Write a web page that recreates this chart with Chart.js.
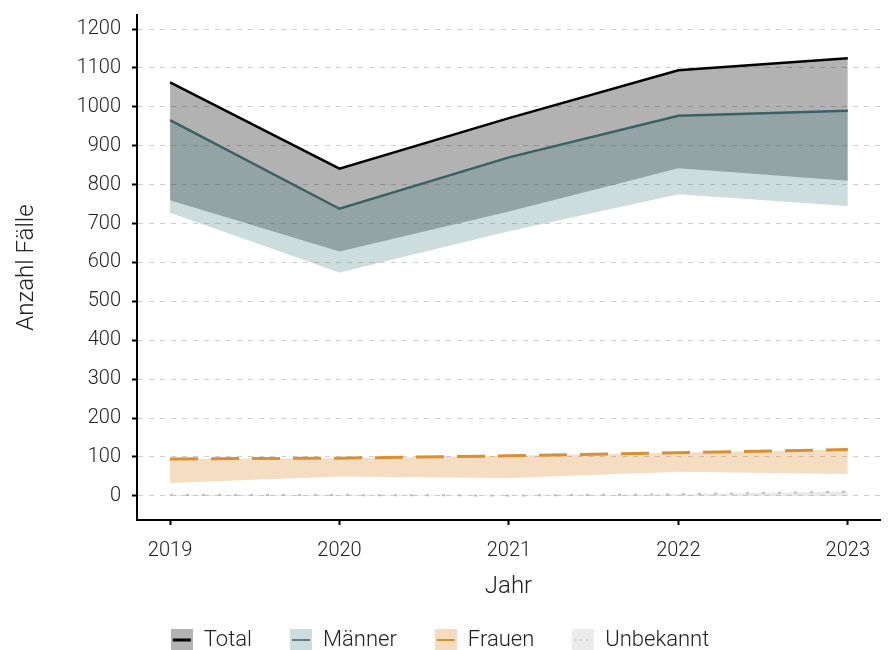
<!DOCTYPE html>
<html lang="de">
<head>
    <meta charset="UTF-8">
    <title>Anzahl Fälle pro Jahr</title>
    <script src="https://cdn.jsdelivr.net/npm/chart.js"></script>
    <style>
        body {
            margin: 0;
            background: #fff;
        }
        #chartBox {
            width: 891px;
            height: 650px;
        }
    </style>
</head>
<body>
    <div id="chartBox">
        <canvas id="caseChart"></canvas>
    </div>

    <script>
// values
const years = [2019, 2020, 2021, 2022, 2023];
const totalHigh = [1063, 841, 971, 1094, 1125];
const totalLow = [760, 628, 731, 842, 810];
const maennerHigh = [966, 738, 870, 977, 990];
const maennerLow = [728, 574, 680, 775, 745];
const frauenHigh = [95, 97, 103, 111, 119];
const frauenLow = [33, 50, 46, 62, 56];
const unbekanntHigh = [2, 2, 1, 4, 11];
const unbekanntLow = [0, 0, 0, 0, 0];
const yTicks = [0, 100, 200, 300, 400, 500, 600, 700, 800, 900, 1000, 1100, 1200];

const fontFamily = "Roboto, 'DejaVu Sans', sans-serif";
const textColor = '#222';

function points(values) {
    return years.map((yr, i) => ({ x: yr, y: values[i] }));
}

// small key pictures for the legend: band colour with the line through it
function legendIcon(fill, stroke, width, dash) {
    const c = document.createElement('canvas');
    c.width = 22;
    c.height = 22;
    const g = c.getContext('2d');
    g.fillStyle = fill;
    g.fillRect(0, 0, 22, 22);
    g.strokeStyle = stroke;
    g.lineWidth = width;
    g.setLineDash(dash);
    g.beginPath();
    g.moveTo(2, 11);
    g.lineTo(20, 11);
    g.stroke();
    return c;
}

const legendEntries = [
    { text: 'Total', index: 0, icon: legendIcon('#b3b3b3', '#000', 3, []) },
    { text: 'Männer', index: 2, icon: legendIcon('#cddcdc', '#3a6266', 1.5, []) },
    { text: 'Frauen', index: 4, icon: legendIcon('#f3dcc0', '#d98f32', 2, []) },
    { text: 'Unbekannt', index: 6, icon: legendIcon('#ebebeb', '#c4c4c4', 1.5, [2, 4]) }
];

const hidden = { borderColor: 'rgba(0,0,0,0)', borderWidth: 0, fill: false };

const ctx = document.getElementById('caseChart').getContext('2d');
new Chart(ctx, {
    type: 'line',
    data: {
        datasets: [
            {
                label: 'Total', data: points(totalHigh),
                borderColor: '#000', borderWidth: 2.5,
                fill: { target: 1 }, backgroundColor: 'rgba(0,0,0,0.3)', order: 4
            },
            Object.assign({ label: 'Total min', data: points(totalLow), order: 5 }, hidden),
            {
                label: 'Männer', data: points(maennerHigh),
                borderColor: '#3a6266', borderWidth: 2.5,
                fill: { target: 3 }, backgroundColor: 'rgba(55,115,115,0.25)', order: 2
            },
            Object.assign({ label: 'Männer min', data: points(maennerLow), order: 6 }, hidden),
            {
                label: 'Frauen', data: points(frauenHigh),
                borderColor: '#d98f32', borderWidth: 3, borderDash: [28, 13],
                fill: { target: 5 }, backgroundColor: 'rgba(217,143,50,0.3)', order: 1
            },
            Object.assign({ label: 'Frauen min', data: points(frauenLow), order: 7 }, hidden),
            {
                label: 'Unbekannt', data: points(unbekanntHigh),
                borderColor: '#bdbdbd', borderWidth: 2, borderDash: [3, 13],
                fill: { target: 7 }, backgroundColor: 'rgba(178,178,178,0.3)', order: 0
            },
            Object.assign({ label: 'Unbekannt min', data: points(unbekanntLow), order: 8 }, hidden)
        ]
    },
    options: {
        responsive: true,
        maintainAspectRatio: false,
        animation: false,
        elements: {
            point: { radius: 0, hoverRadius: 0 },
            line: { tension: 0 }
        },
        layout: {
            padding: { top: 15, right: 11, bottom: 0, left: 0 }
        },
        plugins: {
            tooltip: { enabled: false },
            legend: {
                position: 'bottom',
                maxHeight: 59,
                labels: {
                    usePointStyle: true,
                    padding: 38,
                    color: textColor,
                    font: { family: fontFamily, size: 22, weight: 300 },
                    generateLabels: () => legendEntries.map(e => ({
                        text: e.text,
                        pointStyle: e.icon,
                        datasetIndex: e.index,
                        hidden: false,
                        lineWidth: 0,
                        fontColor: textColor
                    }))
                }
            }
        },
        scales: {
            x: {
                type: 'linear',
                min: 2018.805,
                max: 2023.19,
                afterBuildTicks: scale => { scale.ticks = years.map(v => ({ value: v })); },
                afterFit: scale => {
                    scale.height = 71;
                    scale.paddingLeft = 0;
                    scale.paddingRight = 0;
                },
                ticks: {
                    callback: v => String(v),
                    color: textColor,
                    padding: 14,
                    maxRotation: 0,
                    autoSkip: false,
                    font: { family: fontFamily, size: 20, weight: 300 }
                },
                grid: {
                    drawOnChartArea: false,
                    tickLength: 5,
                    tickWidth: 2,
                    tickColor: '#000'
                },
                border: { color: '#000', width: 2 },
                title: {
                    display: true,
                    text: 'Jahr',
                    color: textColor,
                    font: { family: fontFamily, size: 24, weight: 300 },
                    padding: { top: 0, bottom: -10 }
                }
            },
            y: {
                min: -62,
                max: 1236,
                afterBuildTicks: scale => { scale.ticks = yTicks.map(v => ({ value: v })); },
                afterFit: scale => {
                    scale.width = 137;
                    scale.paddingTop = 0;
                    scale.paddingBottom = 0;
                },
                ticks: {
                    callback: v => String(v),
                    color: textColor,
                    padding: 11,
                    font: { family: fontFamily, size: 20, weight: 300 }
                },
                grid: {
                    color: '#cfcfcf',
                    lineWidth: 1,
                    tickLength: 5,
                    tickWidth: 2,
                    tickColor: '#000',
                    tickBorderDash: []
                },
                border: { color: '#000', width: 2, dash: [5, 6] },
                title: {
                    display: true,
                    text: 'Anzahl Fälle',
                    color: textColor,
                    font: { family: fontFamily, size: 24, weight: 300 },
                    padding: { top: 13, bottom: 0 }
                }
            }
        }
    }
});
    </script>
</body>
</html>
